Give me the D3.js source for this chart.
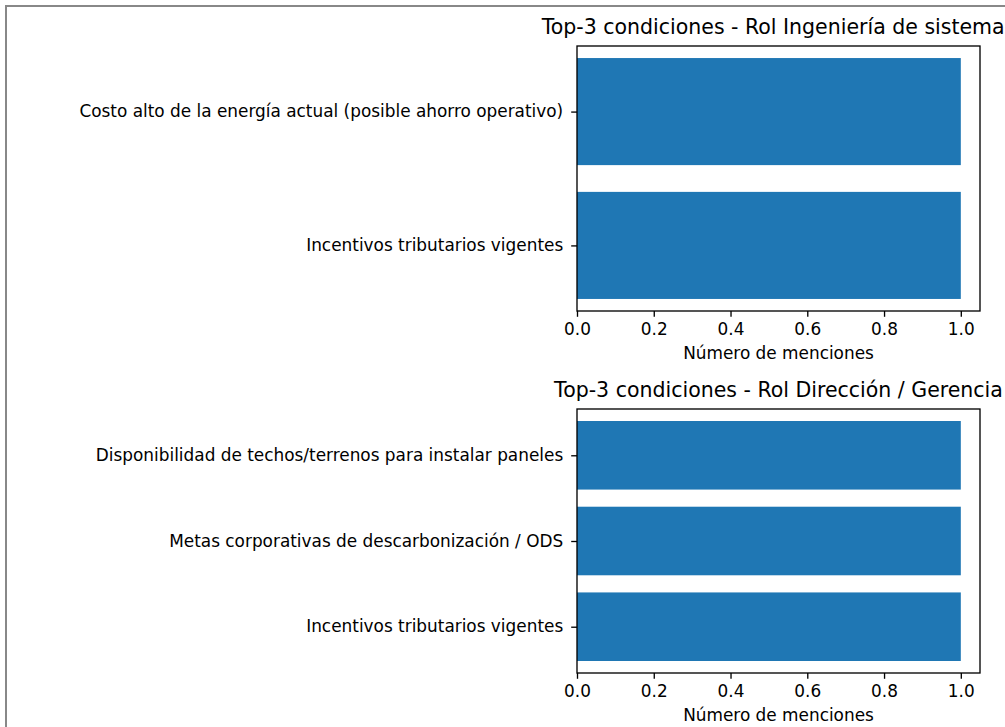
<!DOCTYPE html>
<html><head><meta charset="utf-8">
<script src="https://cdn.jsdelivr.net/npm/d3@7"></script>
<style>
html,body{margin:0;padding:0;background:#fff;overflow:hidden}
svg{display:block;font-family:"DejaVu Sans",sans-serif}
</style></head>
<body><svg id="c" width="1005" height="727"></svg>
<script>
const titles = ["Top-3 condiciones - Rol Ingeniería de sistemas", "Top-3 condiciones - Rol Dirección / Gerencia"];
const categoriesA = ["Costo alto de la energía actual (posible ahorro operativo)", "Incentivos tributarios vigentes"];
const valuesA = [1, 1];
const categoriesB = ["Disponibilidad de techos/terrenos para instalar paneles", "Metas corporativas de descarbonización / ODS", "Incentivos tributarios vigentes"];
const valuesB = [1, 1, 1];
const xTicks = [0, 0.2, 0.4, 0.6, 0.8, 1.0];
const xLabel = "Número de menciones";

const svg = d3.select("#c");
// figure frame
svg.append("rect").attr("x",6).attr("y",6).attr("width",1100).attr("height",800)
  .attr("fill","none").attr("stroke","#888").attr("stroke-width",2);

const left = 577, right = 980;
const panels = [
  {title: titles[0], cats: categoriesA, vals: valuesA, top: 46, bottom: 311},
  {title: titles[1], cats: categoriesB, vals: valuesB, top: 409, bottom: 673}
];
const fs = 16.9;
panels.forEach(p => {
  const n = p.cats.length;
  const x = d3.scaleLinear().domain([0, 1.05]).range([left, right]);
  const span = (n - 1) + 0.8;
  const m = span * 0.05;
  const y = d3.scaleLinear().domain([-0.4 - m, n - 1 + 0.4 + m]).range([p.top, p.bottom]);
  const g = svg.append("g");
  g.selectAll("rect.bar").data(p.vals).join("rect").attr("class","bar")
    .attr("x", x(0)).attr("width", d => x(d) - x(0))
    .attr("y", (d,i) => y(i - 0.4)).attr("height", (d,i) => y(i + 0.4) - y(i - 0.4))
    .attr("fill", "#1f77b4");
  // spines
  g.append("rect").attr("x", left).attr("y", p.top).attr("width", right-left).attr("height", p.bottom-p.top)
    .attr("fill","none").attr("stroke","#000").attr("stroke-width",1.33);
  // x axis
  const xa = g.append("g").attr("transform", `translate(0,${p.bottom})`)
    .call(d3.axisBottom(x).tickValues(xTicks).tickFormat(d3.format(".1f")).tickSize(5.8).tickPadding(5.8).tickSizeOuter(0));
  xa.select(".domain").remove();
  xa.selectAll("line").attr("stroke","#000").attr("stroke-width",1.33);
  xa.selectAll("text").attr("font-size", fs).attr("fill","#000").attr("font-family","DejaVu Sans").attr("dy","0.76em");
  // y axis
  const ya = g.append("g").attr("transform", `translate(${left},0)`)
    .call(d3.axisLeft(y).tickValues(d3.range(n)).tickFormat(i => p.cats[i]).tickSize(5.8).tickPadding(8).tickSizeOuter(0));
  ya.select(".domain").remove();
  ya.selectAll("line").attr("stroke","#000").attr("stroke-width",1.33);
  ya.selectAll("text").attr("font-size", fs).attr("fill","#000").attr("font-family","DejaVu Sans").attr("dy","0.3em");
  // x label
  g.append("text").attr("x", (left+right)/2).attr("y", p.bottom + 48).attr("text-anchor","middle")
    .attr("font-size", fs).attr("fill","#000").text(xLabel);
  // title
  g.append("text").attr("x", (left+right)/2).attr("y", p.top - 12).attr("text-anchor","middle")
    .attr("font-size", 20.5).attr("fill","#000").text(p.title);
});
</script></body></html>
